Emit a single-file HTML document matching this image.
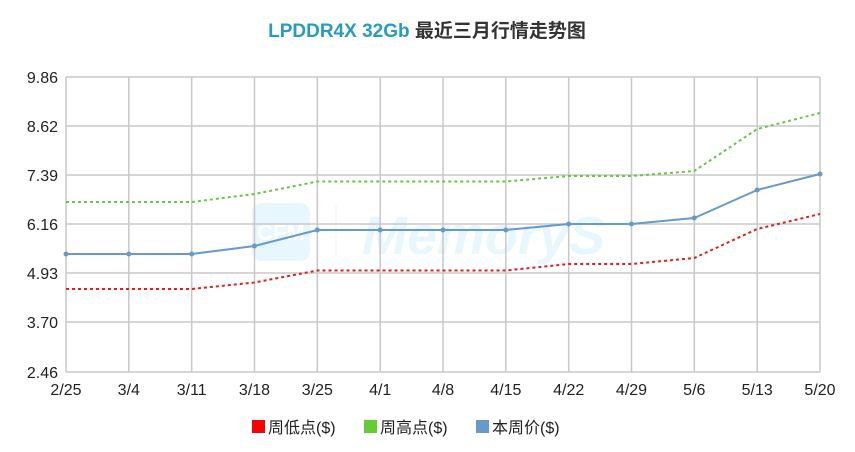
<!DOCTYPE html>
<html><head><meta charset="utf-8"><style>
body{margin:0;background:#fff;width:855px;height:447px;overflow:hidden}
</style></head><body>
<svg width="855" height="447" xmlns="http://www.w3.org/2000/svg" font-family="'Liberation Sans','Noto Sans CJK SC',sans-serif">
<text x="427" y="37" text-anchor="middle" font-size="19" font-weight="bold" fill="#333"><tspan fill="#2a9bc0">LPDDR4X 32Gb</tspan> 最近三月行情走势图</text>
<g opacity="0.35">
<rect x="252" y="203" width="58" height="58" rx="10" fill="#bfe6fb"/>
<text x="281" y="240" text-anchor="middle" font-size="22" font-weight="bold" fill="#fff">CFM</text>
<line x1="336" y1="205" x2="336" y2="258" stroke="#ddd"/>
<text x="362" y="254" font-size="54" font-weight="bold" font-style="italic" fill="#bfe6fb">MemoryS</text>
</g>
<g stroke="#c8c8c8" stroke-width="1.5">
<line x1="66" y1="77" x2="820" y2="77"/><line x1="66" y1="126" x2="820" y2="126"/><line x1="66" y1="175" x2="820" y2="175"/><line x1="66" y1="224" x2="820" y2="224"/><line x1="66" y1="273" x2="820" y2="273"/><line x1="66" y1="322" x2="820" y2="322"/><line x1="66" y1="372" x2="820" y2="372"/>
<line x1="66" y1="77" x2="66" y2="372"/><line x1="128.8" y1="77" x2="128.8" y2="372"/><line x1="191.7" y1="77" x2="191.7" y2="372"/><line x1="254.5" y1="77" x2="254.5" y2="372"/><line x1="317.3" y1="77" x2="317.3" y2="372"/><line x1="380.2" y1="77" x2="380.2" y2="372"/><line x1="443" y1="77" x2="443" y2="372"/><line x1="505.8" y1="77" x2="505.8" y2="372"/><line x1="568.7" y1="77" x2="568.7" y2="372"/><line x1="631.5" y1="77" x2="631.5" y2="372"/><line x1="694.3" y1="77" x2="694.3" y2="372"/><line x1="757.2" y1="77" x2="757.2" y2="372"/><line x1="820" y1="77" x2="820" y2="372"/>
</g>
<g font-size="16" fill="#222" text-anchor="end">
<text x="58" y="83">9.86</text><text x="58" y="132">8.62</text><text x="58" y="181">7.39</text><text x="58" y="230">6.16</text><text x="58" y="279">4.93</text><text x="58" y="328">3.70</text><text x="58" y="378">2.46</text>
</g>
<g font-size="16" fill="#222" text-anchor="middle">
<text x="66" y="395">2/25</text><text x="128.8" y="395">3/4</text><text x="191.7" y="395">3/11</text><text x="254.5" y="395">3/18</text><text x="317.3" y="395">3/25</text><text x="380.2" y="395">4/1</text><text x="443" y="395">4/8</text><text x="505.8" y="395">4/15</text><text x="568.7" y="395">4/22</text><text x="631.5" y="395">4/29</text><text x="694.3" y="395">5/6</text><text x="757.2" y="395">5/13</text><text x="820" y="395">5/20</text>
</g>
<polyline points="66,202 128.8,202 191.7,202 254.5,194 317.3,181.5 380.2,181.5 443,181.5 505.8,181.5 568.7,176 631.5,176 694.3,171 757.2,129 820,113" fill="none" stroke="#66c844" stroke-width="2" stroke-dasharray="3,3" stroke-linejoin="round"/>
<polyline points="66,289 128.8,289 191.7,289 254.5,282.5 317.3,270.5 380.2,270.5 443,270.5 505.8,270.5 568.7,264 631.5,264 694.3,258 757.2,229 820,214" fill="none" stroke="#e0201c" stroke-width="2" stroke-dasharray="3,3" stroke-linejoin="round"/>
<polyline points="66,254 128.8,254 191.7,254 254.5,246 317.3,230 380.2,230 443,230 505.8,230 568.7,224 631.5,224 694.3,218 757.2,190 820,174" fill="none" stroke="#6699cc" stroke-width="2" stroke-linejoin="round"/>
<g fill="#6699cc">
<circle cx="66" cy="254" r="2.5"/><circle cx="128.8" cy="254" r="2.5"/><circle cx="191.7" cy="254" r="2.5"/><circle cx="254.5" cy="246" r="2.5"/><circle cx="317.3" cy="230" r="2.5"/><circle cx="380.2" cy="230" r="2.5"/><circle cx="443" cy="230" r="2.5"/><circle cx="505.8" cy="230" r="2.5"/><circle cx="568.7" cy="224" r="2.5"/><circle cx="631.5" cy="224" r="2.5"/><circle cx="694.3" cy="218" r="2.5"/><circle cx="757.2" cy="190" r="2.5"/><circle cx="820" cy="174" r="2.5"/>
</g>
<g font-size="16" fill="#222">
<rect x="252" y="420" width="13" height="13" fill="#ff0000"/><text x="268" y="433">周低点($)</text>
<rect x="364" y="420" width="13" height="13" fill="#66cc33"/><text x="380" y="433">周高点($)</text>
<rect x="476" y="420" width="13" height="13" fill="#6699cc"/><text x="492" y="433">本周价($)</text>
</g>
</svg>
</body></html>
